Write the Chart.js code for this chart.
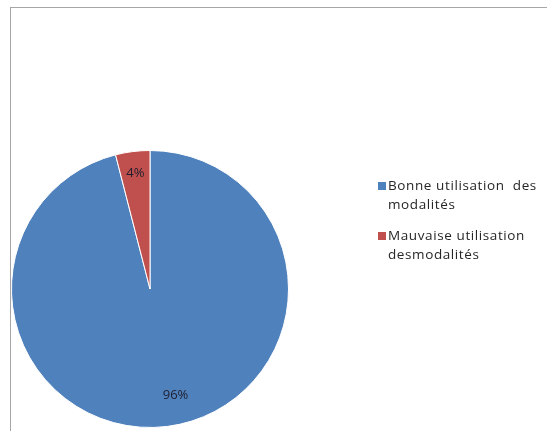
<!DOCTYPE html>
<html>
<head>
<meta charset="utf-8">
<script src="https://cdn.jsdelivr.net/npm/chart.js@4"></script>
<style>
  html, body { margin: 0; padding: 0; background: #fff; }
  #wrap { position: relative; width: 547px; height: 431px; overflow: hidden; }
  #frame { position: absolute; left: 10px; top: 7px; width: 560px; height: 460px;
           border-left: 1px solid #a6a6a6; border-top: 1px solid #a6a6a6; }
  #legend { position: absolute; left: 378px; top: 176px; font-family: "Open Sans", sans-serif;
            font-size: 13.5px; letter-spacing: 0.6px; color: #262626; }
  .item { position: relative; padding-left: 10px; line-height: 19px; margin-bottom: 12px; width: 172px; }
  .box { position: absolute; left: 0; top: 6px; width: 8px; height: 8px; }
</style>
</head>
<body>
<div id="wrap">
  <div id="frame"></div>
  <canvas id="pie" width="547" height="431"></canvas>
  <div id="legend"></div>
</div>
<script>
const categories = ["Bonne utilisation  des modalités", "Mauvaise utilisation desmodalités"];
const values = [96, 4];
const colors = ["#4F81BD", "#C0504D"];

// LEGEND
const legend = document.getElementById("legend");
categories.forEach((c, i) => {
  const div = document.createElement("div");
  div.className = "item";
  div.innerHTML = `<span class="box" style="background:${colors[i]}"></span>${c.replace("  ", "&nbsp; ")}`;
  legend.appendChild(div);
});

// PERCENT LABELS (big slice label sits a bit off its mid angle, like Excel's best fit)
const pctLabels = {
  id: "pctLabels",
  afterDatasetsDraw(chart) {
    const ctx = chart.ctx;
    const total = values.reduce((a, b) => a + b, 0);
    chart.getDatasetMeta(0).data.forEach((arc, i) => {
      const mid = (arc.startAngle + arc.endAngle) / 2 - (i === 0 ? 0.11 : 0);
      const r = arc.outerRadius * (i === 0 ? 0.79 : 0.84);
      ctx.save();
      ctx.font = "13px 'Open Sans', sans-serif";
      ctx.fillStyle = "#1f1f2e";
      ctx.textAlign = "center";
      ctx.textBaseline = "middle";
      ctx.fillText(Math.round(values[i] / total * 100) + "%", arc.x + Math.cos(mid) * r, arc.y + Math.sin(mid) * r);
      ctx.restore();
    });
  }
};

new Chart(document.getElementById("pie"), {
  type: "pie",
  data: {
    labels: categories,
    datasets: [{
      data: values,
      backgroundColor: colors,
      borderColor: "#ffffff",
      borderWidth: 1
    }]
  },
  options: {
    responsive: false,
    animation: false,
    layout: { padding: { left: 11, right: 258, top: 150, bottom: 3 } },
    plugins: { legend: { display: false }, tooltip: { enabled: false } }
  },
  plugins: [pctLabels]
});
</script>
</body>
</html>
